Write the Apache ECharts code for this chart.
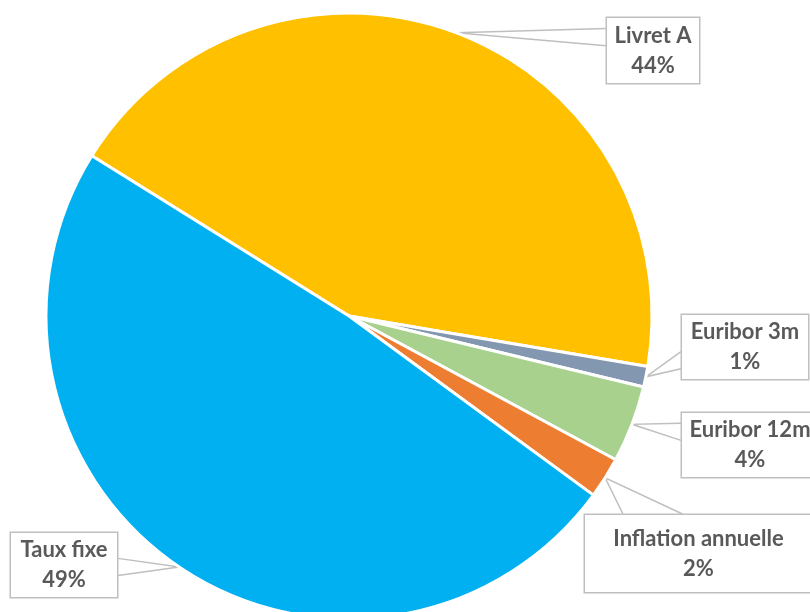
<!DOCTYPE html>
<html><head><meta charset="utf-8">
<script src="https://cdn.jsdelivr.net/npm/echarts@6/dist/echarts.min.js"></script>
<style>html,body{margin:0;padding:0;background:#fff}#c{width:810px;height:612px}</style>
</head><body><div id="c"></div>
<script>
const categories = ['Livret A', 'Euribor 3m', 'Euribor 12m', 'Inflation annuelle', 'Taux fixe'];
const shares = [43.8, 1.1, 4.1, 2.2, 48.8];
const colors = ['#FFC000', '#8497B0', '#A9D18E', '#ED7D31', '#00B0F0'];

// label box layout: [centerX, centerY, outerWidth, outerHeight]
const labelBoxes = [
  [653, 50.5, 94, 67],
  [745, 347, 128, 66],
  [750, 445, 138, 66],
  [698.5, 553.5, 229, 79],
  [64, 565, 108, 66]
];

function clamp(v, a, b) { return Math.max(a, Math.min(b, v)); }

const LH = 30;
const data = categories.map(function (name, i) {
  const b = labelBoxes[i];
  const padX = 6, padY = (b[3] - 2 - 2 * LH) / 2;
  return {
    name: name,
    value: shares[i],
    itemStyle: { color: colors[i] },
    label: {
      width: b[2] - 2 - 2 * padX,
      height: 2 * LH,
      padding: [padY, padX, padY, padX]
    }
  };
});

const chart = echarts.init(document.getElementById('c'), null, { renderer: 'canvas' });
chart.setOption({
  animation: false,
  backgroundColor: '#ffffff',
  series: [{
    type: 'pie',
    center: [349, 316],
    radius: 303,
    startAngle: 148.08,
    clockwise: true,
    avoidLabelOverlap: false,
    data: data,
    itemStyle: { borderColor: '#ffffff', borderWidth: 3 },
    label: {
      show: true,
      position: 'outside',
      formatter: function (p) { return p.name + '\n' + Math.round(p.percent) + '%'; },
      fontFamily: 'Lato',
      fontWeight: 'bold',
      fontSize: 22,
      lineHeight: LH,
      color: '#595959',
      backgroundColor: '#ffffff',
      borderColor: '#BFBFBF',
      borderWidth: 1.5,
      align: 'center',
      overflow: 'none'
    },
    labelLine: {
      show: true,
      length: 10,
      length2: 10,
      lineStyle: { color: '#BFBFBF', width: 1.5 }
    },
    emphasis: { disabled: true },
    labelLayout: function (p) {
      const b = labelBoxes[p.dataIndex];
      const res = { x: b[0], y: b[1], align: 'center', verticalAlign: 'middle' };
      const tip = p.labelLinePoints ? p.labelLinePoints[0] : null;
      if (tip) {
        const l = b[0] - b[2] / 2, r = b[0] + b[2] / 2, t = b[1] - b[3] / 2, bt = b[1] + b[3] / 2;
        let a, c;
        if (tip[0] < l || tip[0] > r) {
          const ex = tip[0] < l ? l : r;
          const len = b[3];
          const cy = clamp(tip[1], t + 0.3 * len, bt - 0.3 * len);
          const h = 0.13 * len;
          a = [ex, cy - h]; c = [ex, cy + h];
        } else {
          const ey = tip[1] < t ? t : bt;
          const len = b[2];
          const cx = clamp(tip[0], l + 0.3 * len, r - 0.3 * len);
          const h = 0.13 * len;
          a = [cx - h, ey]; c = [cx + h, ey];
        }
        res.labelLinePoints = [a, [tip[0], tip[1]], c];
      }
      return res;
    }
  }]
});
</script>
</body></html>
